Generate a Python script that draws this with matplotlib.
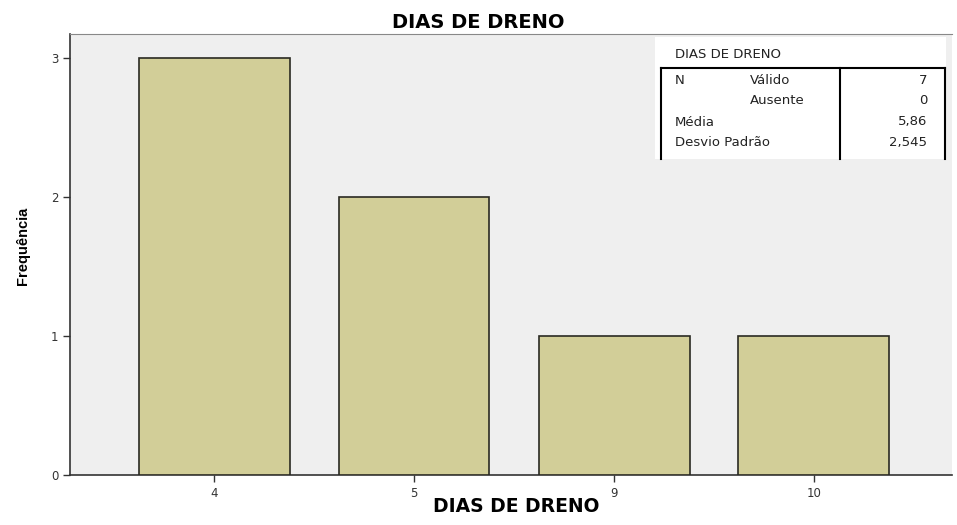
import matplotlib
matplotlib.use("Agg")
import matplotlib.pyplot as plt
from matplotlib.patches import Rectangle
from matplotlib.lines import Line2D

categories = ["4", "5", "9", "10"]
frequencies = [3, 2, 1, 1]
y_ticks = [0, 1, 2, 3]
title = "DIAS DE DRENO"
x_label = "DIAS DE DRENO"
y_label = "Frequência"
stat_labels = [("N", "Válido"), ("", "Ausente"), ("Média", ""), ("Desvio Padrão", "")]
stat_values = ["7", "0", "5,86", "2,545"]

W, H = 957, 525
fig = plt.figure(figsize=(W / 100, H / 100), dpi=100)
fig.patch.set_facecolor("white")

def fx(px):
    return px / W

def fy(py):
    return 1 - py / H

ax = fig.add_axes([fx(70), fy(475), fx(952) - fx(70), fy(34) - fy(475)])
ax.set_facecolor("#efefef")
xs = list(range(len(categories)))
ax.bar(xs, frequencies, width=0.755, color="#d2ce98", edgecolor="#2a2a22", linewidth=1.2, zorder=3)
ax.set_xlim(-0.72, 3.69)
ax.set_ylim(0, 3.17)
ax.set_xticks(xs)
ax.set_xticklabels(categories, family="DejaVu Sans")
ax.set_yticks(y_ticks)
ax.set_yticklabels([str(t) for t in y_ticks], family="DejaVu Sans")
ax.tick_params(axis="both", labelsize=8.5, colors="#333333", length=5, width=1, direction="out")
ax.spines["right"].set_visible(False)
ax.spines["top"].set_color("#888888")
ax.spines["left"].set_color("#333333")
ax.spines["bottom"].set_color("#333333")
ax.spines["left"].set_linewidth(1.2)
ax.spines["bottom"].set_linewidth(1.2)

fig.text(fx(478), fy(22), title, ha="center", va="center", fontsize=14, fontweight="bold", family=["DejaVu Sans"])
fig.text(fx(516), fy(507), x_label, ha="center", va="center", fontsize=13.5, fontweight="bold", family=["DejaVu Sans"])
fig.text(fx(23), fy(246), y_label, ha="center", va="center", rotation=90, fontsize=10.5, fontweight="bold", family=["Liberation Sans", "DejaVu Sans"])

# statistics table
fig.add_artist(Rectangle((fx(655), fy(159)), fx(946) - fx(655), fy(37) - fy(159), transform=fig.transFigure, facecolor="white", edgecolor="none", zorder=5))
fnt = dict(fontsize=9.5, family=["DejaVu Sans"], color="#222222", zorder=6)
fig.text(fx(675), fy(55), "DIAS DE DRENO", ha="left", va="center", **fnt)
for xx in [fx(661), fx(840), fx(945)]:
    fig.add_artist(Line2D([xx, xx], [fy(68), fy(159)], transform=fig.transFigure, color="black", lw=1.5, zorder=6))
fig.add_artist(Line2D([fx(661), fx(945)], [fy(68), fy(68)], transform=fig.transFigure, color="black", lw=1.5, zorder=6))
row_y = [80, 101, 122, 142]
for (a, b), v, ry in zip(stat_labels, stat_values, row_y):
    if a:
        fig.text(fx(675), fy(ry), a, ha="left", va="center", **fnt)
    if b:
        fig.text(fx(750), fy(ry), b, ha="left", va="center", **fnt)
    fig.text(fx(927), fy(ry), v, ha="right", va="center", **fnt)

fig.savefig("out.png", dpi=100)
